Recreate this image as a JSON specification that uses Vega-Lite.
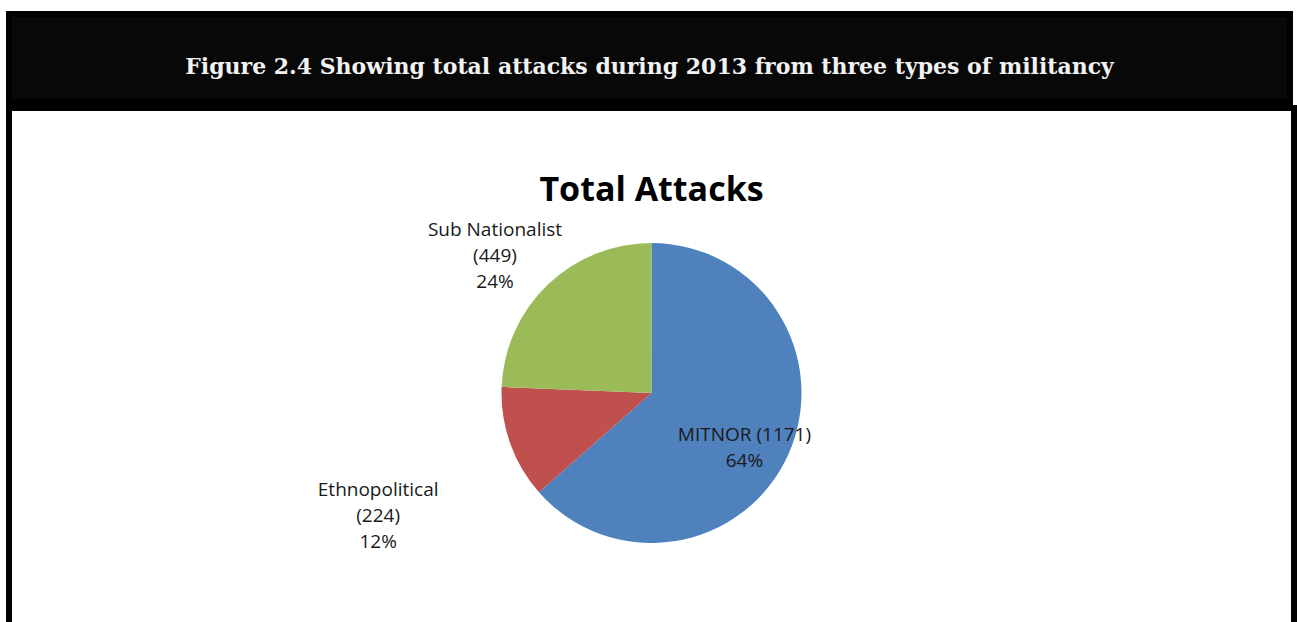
{
  "$schema": "https://vega.github.io/schema/vega-lite/v6.json",
  "padding": {"left": 6, "top": 11, "right": 0, "bottom": 0},
  "background": "white",
  "spacing": 0,
  "config": {"concat": {"spacing": 0}},
  "vconcat": [
    {
      "width": 1281,
      "height": 88,
      "view": {"fill": "#080808", "stroke": "#000000", "strokeWidth": 6},
      "data": {"values": [{"t": "Figure 2.4 Showing total attacks during 2013 from three types of militancy"}]},
      "mark": {"type": "text", "font": "DejaVu Serif", "fontWeight": "bold", "fontSize": 22, "color": "#f2f2f2", "baseline": "middle", "align": "center", "dy": 9},
      "encoding": {"text": {"field": "t"}}
    },
    {
      "width": 1285,
      "height": 570,
      "view": {"fill": "white", "stroke": "#000000", "strokeWidth": 6},
      "title": {"text": "Total Attacks", "font": "Open Sans", "fontWeight": "bold", "fontSize": 34, "color": "#000000", "orient": "top", "anchor": "middle", "baseline": "top", "offset": -100},
      "data": {"values": [
        {"category": "MITNOR", "attacks": 1171},
        {"category": "Ethnopolitical", "attacks": 224},
        {"category": "Sub Nationalist", "attacks": 449}
      ]},
      "transform": [
        {"joinaggregate": [{"op": "sum", "field": "attacks", "as": "total"}]},
        {"calculate": "datum.category === 'MITNOR' ? ['MITNOR (' + datum.attacks + ')', format(datum.attacks / datum.total, '.0%')] : [datum.category, '(' + datum.attacks + ')', format(datum.attacks / datum.total, '.0%')]", "as": "label"}
      ],
      "encoding": {
        "theta": {"field": "attacks", "type": "quantitative", "stack": true, "scale": {"range": [3.9900, 10.2732]}},
        "order": {"field": "attacks", "type": "quantitative", "sort": "ascending"}
      },
      "layer": [
        {
          "mark": {"type": "arc", "outerRadius": 150},
          "encoding": {
            "color": {"field": "category", "type": "nominal", "legend": null,
              "scale": {"domain": ["MITNOR", "Ethnopolitical", "Sub Nationalist"], "range": ["#4F81BD", "#C0504D", "#9BBB59"]}}
          }
        },
        {
          "mark": {"type": "text", "radius": 102, "font": "Open Sans", "fontSize": 19, "color": "#1a1a1a", "lineHeight": 26, "baseline": "middle", "align": "center"},
          "encoding": {"text": {"condition": {"test": "datum.category === 'MITNOR'", "field": "label"}, "value": ""}}
        },
        {
          "mark": {"type": "text", "radius": 226, "font": "Open Sans", "fontSize": 19, "color": "#1a1a1a", "lineHeight": 26, "baseline": "middle", "align": "center"},
          "encoding": {"text": {"condition": {"test": "datum.category === 'Sub Nationalist'", "field": "label"}, "value": ""}}
        },
        {
          "mark": {"type": "text", "radius": 290, "font": "Open Sans", "fontSize": 19, "color": "#1a1a1a", "lineHeight": 26, "baseline": "middle", "align": "center"},
          "encoding": {"text": {"condition": {"test": "datum.category === 'Ethnopolitical'", "field": "label"}, "value": ""}}
        }
      ]
    }
  ]
}
